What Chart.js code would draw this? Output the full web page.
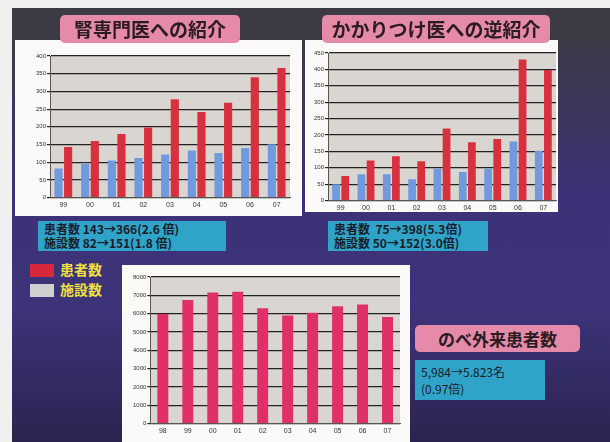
<!DOCTYPE html>
<html>
<head>
<meta charset="utf-8">
<script src="https://cdn.jsdelivr.net/npm/chart.js@4.4.0/dist/chart.umd.min.js"></script>
<style>
  body { margin: 0; width: 610px; height: 442px; background: #f2f0ee; overflow: hidden;
         font-family: "Noto Sans CJK JP", "Noto Sans", sans-serif; }
  #slide { position: absolute; left: 12px; top: 8px; width: 598px; height: 434px;
           background: linear-gradient(180deg, #3b3a45 0px, #3b3a45 28px, #3c3278 190px, #3d3379 300px, #2b2450 434px); }
  .box { position: absolute; background: #fbfaf8; }
  .title { position: absolute; background: #e58aa8; color: #2b1b22; border-radius: 5px;
           font-weight: bold; text-align: center; }
  .note { position: absolute; background: #2fa3c8; color: #1b1b2a; font-weight: bold;
          font-size: 12px; line-height: 14px; padding: 1px 6px; }
  .leg { position: absolute; width: 24px; height: 13px; }
  .legt { position: absolute; color: #f0e040; font-weight: bold; font-size: 14px; }
  canvas { position: absolute; }
</style>
</head>
<body>
<div id="slide"></div>
<div class="box" style="left:15px;top:40px;width:287px;height:176px"></div>
<div class="box" style="left:305px;top:40px;width:253px;height:172px"></div>
<div class="box" style="left:122px;top:265px;width:288px;height:177px"></div>

<canvas id="c1" width="287" height="176" style="left:15px;top:40px"></canvas>
<canvas id="c2" width="253" height="178" style="left:305px;top:40px"></canvas>
<canvas id="c3" width="288" height="177" style="left:122px;top:265px"></canvas>

<div class="title" style="left:60px;top:15px;width:180px;height:28px;font-size:19px;line-height:28px">腎専門医への紹介</div>
<div class="title" style="left:322px;top:15px;width:228px;height:28px;font-size:19px;line-height:28px">かかりつけ医への逆紹介</div>
<div class="title" style="left:415px;top:325px;width:165px;height:27px;font-size:17px;line-height:27px">のべ外来患者数</div>

<div class="note" style="left:38px;top:221px;width:176px">患者数 143→366(2.6 倍)<br>施設数 82→151(1.8 倍)</div>
<div class="note" style="left:328px;top:221px;width:148px">患者数 &nbsp;75→398(5.3倍)<br>施設数 50→152(3.0倍)</div>
<div class="note" style="left:415px;top:360px;width:118px;font-weight:normal;font-size:12px;line-height:17px;padding:3px 6px">5,984→5.823名<br>(0.97倍)</div>

<div class="leg" style="left:30px;top:264px;background:#d8283c"></div>
<div class="legt" style="left:60px;top:259px">患者数</div>
<div class="leg" style="left:30px;top:284px;background:#cfd0d2"></div>
<div class="legt" style="left:60px;top:279px">施設数</div>

<script>
// 腎専門医への紹介
const years1 = ['99', '00', '01', '02', '03', '04', '05', '06', '07'];
const referPatients = [143, 160, 180, 198, 278, 242, 268, 340, 366];
const referFacilities = [82, 95, 105, 112, 122, 133, 126, 140, 151];

// かかりつけ医への逆紹介
const backPatients = [75, 122, 135, 120, 220, 178, 188, 430, 398];
const backFacilities = [50, 80, 80, 65, 97, 87, 98, 180, 152];

// のべ外来患者数
const years3 = ['98', '99', '00', '01', '02', '03', '04', '05', '06', '07'];
const outpatients = [5984, 6750, 7150, 7200, 6300, 5900, 6050, 6400, 6500, 5823];

const plotBg = {
    id: 'plotBg',
    beforeDraw(chart) {
        const a = chart.chartArea;
        const ctx = chart.ctx;
        ctx.save();
        ctx.fillStyle = '#d9d6d1';
        ctx.fillRect(a.left, a.top, a.right - a.left, a.bottom - a.top);
        ctx.restore();
    }
};

function makeChart(id, labels, datasets, max, step, pad, catPct, barPct) {
    return new Chart(document.getElementById(id), {
        type: 'bar',
        data: { labels: labels, datasets: datasets },
        options: {
            responsive: false,
            animation: false,
            layout: { padding: pad },
            plugins: { legend: { display: false }, tooltip: { enabled: false } },
            datasets: { bar: { categoryPercentage: catPct, barPercentage: barPct } },
            scales: {
                x: {
                    grid: { display: false, drawTicks: false },
                    border: { color: '#555' },
                    ticks: { font: { size: 7 }, color: '#333', padding: 3 }
                },
                y: {
                    min: 0, max: max,
                    grid: { color: '#222', lineWidth: 1.2, tickLength: 3 },
                    border: { color: '#555' },
                    ticks: { stepSize: step, font: { size: 6 }, color: '#333', padding: 1,
                             callback: v => String(v) }
                }
            }
        },
        plugins: [plotBg]
    });
}

makeChart('c1', years1, [
    { data: referFacilities, backgroundColor: '#7199dd' },
    { data: referPatients, backgroundColor: '#d8303f' }
], 400, 50, { left: 20, right: 12, top: 16, bottom: 4 }, 0.72, 0.85);

makeChart('c2', years1, [
    { data: backFacilities, backgroundColor: '#7199dd' },
    { data: backPatients, backgroundColor: '#d8303f' }
], 450, 50, { left: 8, right: 2, top: 13, bottom: 3 }, 0.72, 0.85);

makeChart('c3', years3, [
    { data: outpatients, backgroundColor: '#e0306a' }
], 8000, 1000, { left: 10, right: 10, top: 12, bottom: 4 }, 0.8, 0.55);
</script>
</body>
</html>
